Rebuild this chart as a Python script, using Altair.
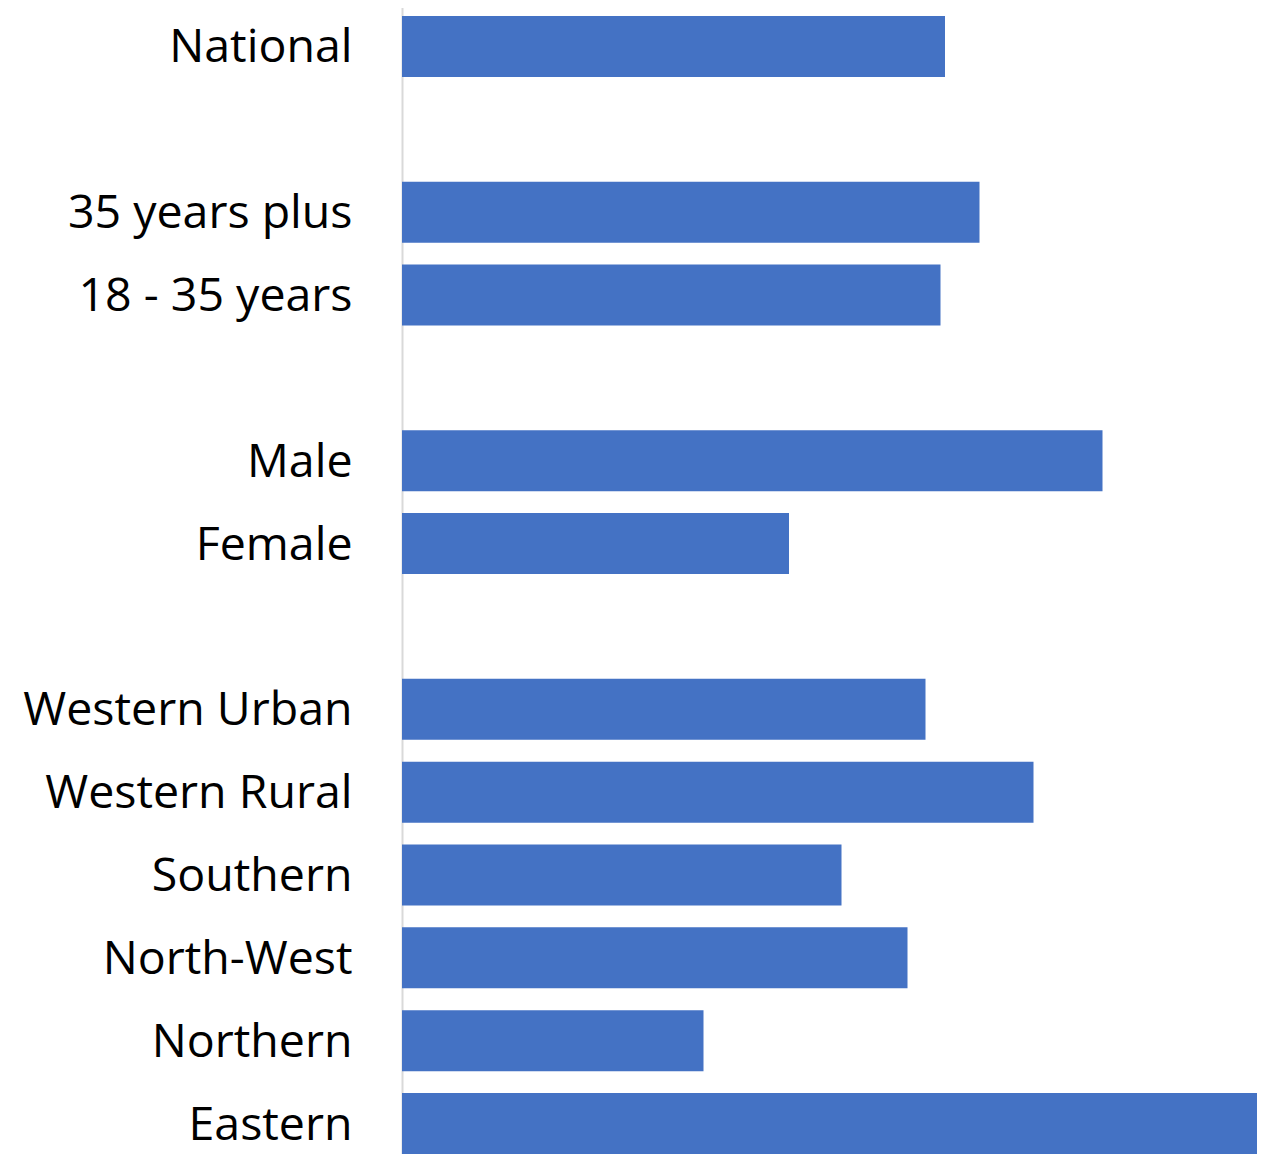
import altair as alt
import pandas as pd

categories = ["National", " ", "35 years plus", "18 - 35 years", "  ", "Male", "Female", "   ",
              "Western Urban", "Western Rural", "Southern", "North-West", "Northern", "Eastern"]
bar_categories = ["National", "35 years plus", "18 - 35 years", "Male", "Female",
                  "Western Urban", "Western Rural", "Southern", "North-West", "Northern", "Eastern"]
values = [36.2, 38.5, 35.9, 46.7, 25.8, 34.9, 42.1, 29.3, 33.7, 20.1, 57.0]

df = pd.DataFrame({"group": bar_categories, "value": values})

chart = alt.Chart(df).mark_bar(color="#4472C4").encode(
    x=alt.X("value:Q", axis=None, scale=alt.Scale(domain=[0, 57], nice=False, zero=True)),
    y=alt.Y("group:N", sort=categories,
            scale=alt.Scale(domain=categories, paddingInner=0.264, paddingOuter=0.132),
            axis=alt.Axis(title=None, ticks=False, domainColor="#D9D9D9", domainWidth=2,
                          labelFont="Open Sans", labelFontSize=46.5, labelColor="#000000",
                          labelPadding=50, labelOffset=2, labelLimit=0, grid=False)),
).properties(
    width=855, height=1160,
    autosize=alt.AutoSizeParams(type="none"),
    padding={"left": 394, "top": -3, "right": 10, "bottom": 0},
).configure_view(stroke=None)

chart.save("out.html", embed_options={"renderer": "svg", "actions": False})
